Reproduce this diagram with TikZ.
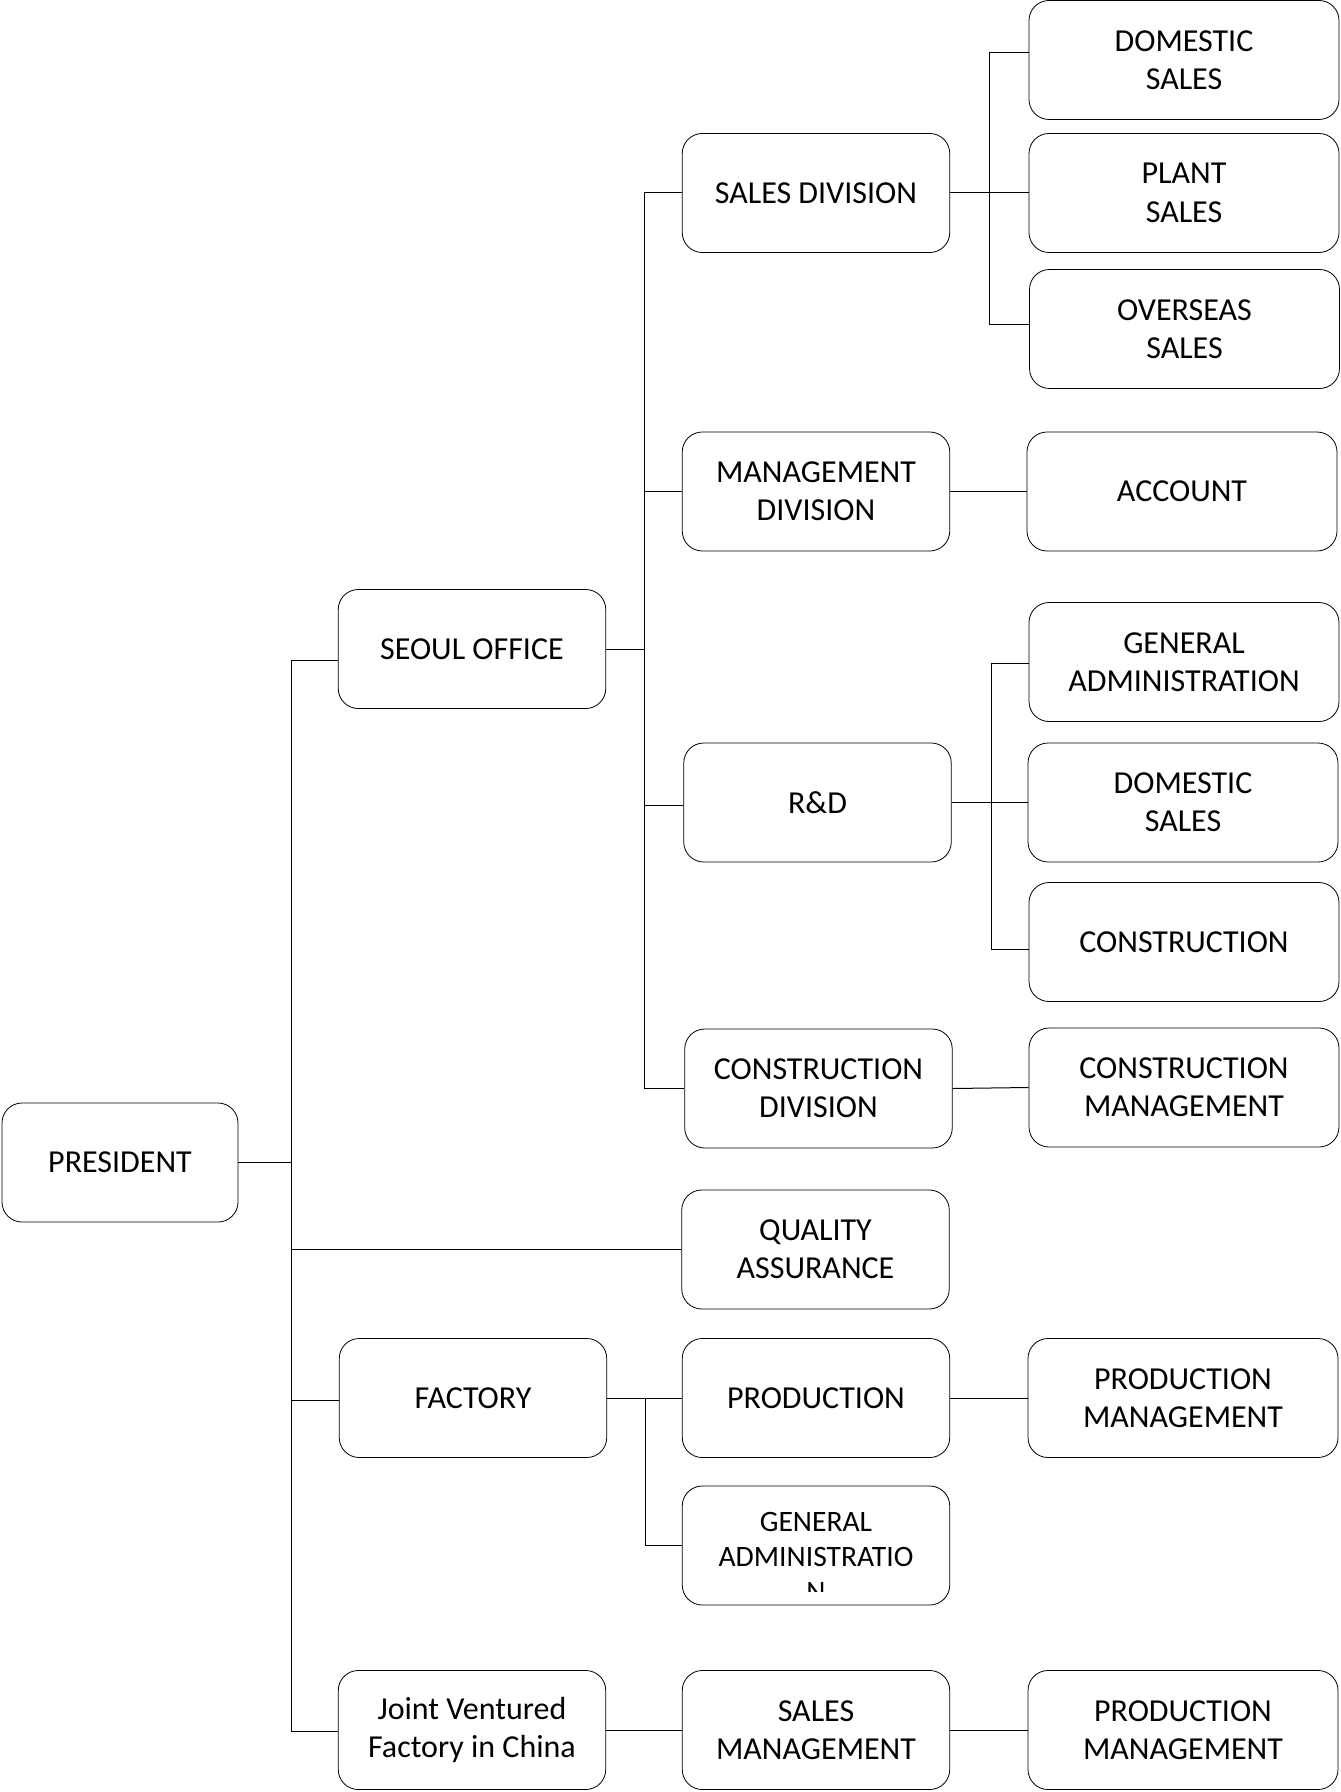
\documentclass[tikz,border=0pt]{standalone}
\usepackage{fontspec}
\setmainfont{Carlito}
\begin{document}
\begin{tikzpicture}[x=0.5pt,y=-0.5pt,
    unit/.style={draw, rounded corners=10pt, minimum width=133.75pt, minimum height=59.5pt, align=center, inner sep=0pt, font=\fontsize{16}{19.2}\selectfont},
    leaf/.style={unit, minimum width=155pt},
    link/.style={line width=0.5pt}]
    \useasboundingbox (0,0) rectangle (1340,1792);
    
    \node[unit, minimum width=118pt] (pres) at (120,1162.5) {PRESIDENT};
    
    \node[unit] (seoul) at (472,649) {SEOUL OFFICE};
    \node[unit] (factory) at (473,1398) {FACTORY};
    \node[unit] (jv) at (472,1730) {Joint Ventured\\Factory in China};
    
    \node[unit] (salesdiv) at (816,193) {SALES DIVISION};
    \node[unit] (mgmtdiv) at (816,491.5) {MANAGEMENT\\DIVISION};
    \node[unit] (rnd) at (817.5,802.5) {R\&D};
    \node[unit] (constrdiv) at (818.5,1088.5) {CONSTRUCTION\\DIVISION};
    \node[unit] (qa) at (815.5,1249.5) {QUALITY\\ASSURANCE};
    \node[unit] (prod) at (816,1398) {PRODUCTION};
    \node[unit] (genadm) at (816,1545.5) {};
    \node[unit] (salesmgmt) at (816,1730) {SALES\\MANAGEMENT};
    
    \begin{scope}
    \clip (genadm.north west) rectangle ([yshift=7pt]genadm.south east);
    \node[align=center, inner sep=0pt, anchor=north, font=\fontsize{14.8}{17.5}\selectfont] (genadmtext) at ([yshift=-13pt]genadm.north) {GENERAL\\ADMINISTRATIO\\N};
    \end{scope}
    
    \node[leaf] (domestic) at (1184,60) {DOMESTIC\\SALES};
    \node[leaf] (plant) at (1184,193) {PLANT\\SALES};
    \node[leaf] (overseas) at (1184.5,329) {OVERSEAS\\SALES};
    \node[leaf] (account) at (1182,491.5) {ACCOUNT};
    \node[leaf] (genadmin) at (1184,662) {GENERAL\\ADMINISTRATION};
    \node[leaf] (domsales) at (1183,802.5) {DOMESTIC\\SALES};
    \node[leaf] (construction) at (1184,942) {CONSTRUCTION};
    \node[leaf] (constrmgmt) at (1184,1087.5) {CONSTRUCTION\\MANAGEMENT};
    \node[leaf] (prodmgmt) at (1183,1398) {PRODUCTION\\MANAGEMENT};
    \node[leaf] (prodmgmtb) at (1183,1730) {PRODUCTION\\MANAGEMENT};
    
    % president to second level
    \coordinate (t1) at (291,660);
    \coordinate (t2) at (291,1731);
    \draw[link] (pres.east) -- (pres.east -| t1);
    \draw[link] (t1) -- (t2);
    \draw[link] (t1) -- (t1 -| seoul.west);
    \draw[link] (qa.west) -- (qa.west -| t1);
    \draw[link] ([yshift=-1pt]factory.west) -- ([yshift=-1pt]factory.west -| t1);
    \draw[link] (t2) -- (t2 -| jv.west);
    
    % seoul office
    \coordinate (s1) at (644,193);
    \coordinate (s2) at (644,1088);
    \draw[link] (seoul.east) -- (seoul.east -| s1);
    \draw[link] (s1) -- (s2);
    \draw[link] (s1) -- (salesdiv.west);
    \draw[link] (mgmtdiv.west) -- (mgmtdiv.west -| s1);
    \draw[link] ([yshift=-1.5pt]rnd.west) -- ([yshift=-1.5pt]rnd.west -| s1);
    \draw[link] (s2) -- (s2 -| constrdiv.west);
    
    \coordinate (a1) at (989,53);
    \coordinate (a2) at (989,325);
    \draw[link] (salesdiv.east) -- (plant.west);
    \draw[link] (a1) -- (a2);
    \draw[link] (a1) -- (a1 -| domestic.west);
    \draw[link] (a2) -- (a2 -| overseas.west);
    
    \draw[link] (mgmtdiv.east) -- (account.west);
    
    \coordinate (b1) at (991,663);
    \coordinate (b2) at (991,949);
    \draw[link] (rnd.east) -- (domsales.west);
    \draw[link] (b1) -- (b2);
    \draw[link] (b1) -- (b1 -| genadmin.west);
    \draw[link] (b2) -- (b2 -| construction.west);
    
    \draw[link] (constrdiv.east) -- (constrmgmt.west);
    
    % factory
    \coordinate (c1) at (645,1398);
    \coordinate (c2) at (645,1545);
    \draw[link] (factory.east) -- (prod.west);
    \draw[link] (c1) -- (c2);
    \draw[link] (c2) -- (c2 -| genadm.west);
    \draw[link] (prod.east) -- (prodmgmt.west);
    
    % joint venture
    \draw[link] (jv.east) -- (salesmgmt.west);
    \draw[link] (salesmgmt.east) -- (prodmgmtb.west);
    
\end{tikzpicture}
\end{document}
